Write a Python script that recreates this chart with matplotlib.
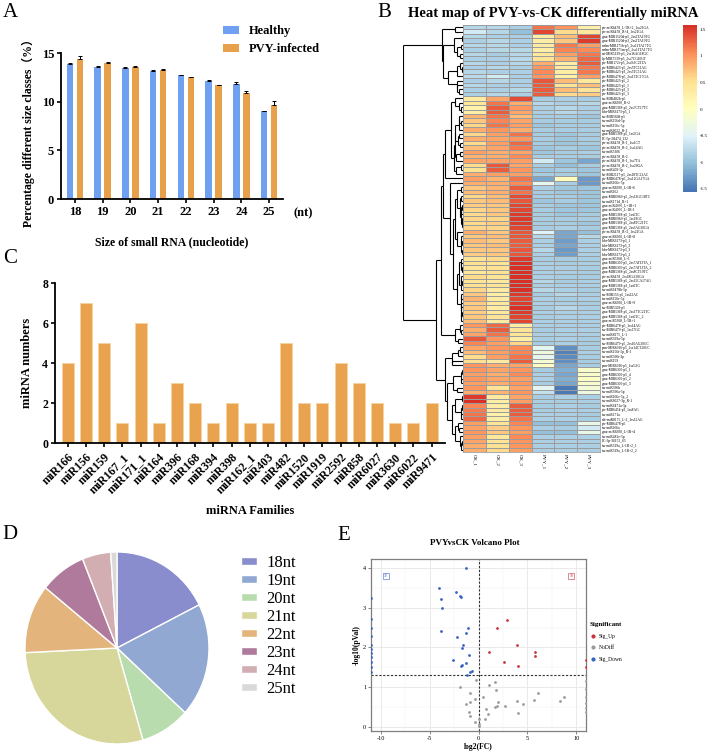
import numpy as np
import matplotlib
matplotlib.use('Agg')
import matplotlib.pyplot as plt
from matplotlib.colors import LinearSegmentedColormap
from matplotlib.lines import Line2D

# ---------------- data ----------------
size_classes = ['18', '19', '20', '21', '22', '23', '24', '25']
healthy = [13.9, 13.6, 13.45, 13.2, 12.7, 12.1, 11.85, 9.05]
healthy_err = [0.12, 0.08, 0.08, 0.05, 0.05, 0.15, 0.12, 0.04]
pvy = [14.35, 13.95, 13.6, 13.3, 12.55, 11.7, 10.85, 9.7]
pvy_err = [0.3, 0.1, 0.1, 0.1, 0.03, 0.06, 0.25, 0.35]

families = ['miR166', 'miR156', 'miR159', 'miR167_1', 'miR171_1', 'miR164', 'miR396',
            'miR168', 'miR394', 'miR398', 'miR162_1', 'miR403', 'miR482', 'miR1520',
            'miR1919', 'miR2592', 'miR858', 'miR6027', 'miR3630', 'miR6022', 'miR9471']
family_counts = [4, 7, 5, 1, 6, 1, 3, 2, 1, 2, 1, 1, 5, 2, 2, 4, 3, 2, 1, 1, 2]

pie_labels = ['18nt', '19nt', '20nt', '21nt', '22nt', '23nt', '24nt', '25nt']
pie_values = [17.6, 19.2, 8.7, 28.8, 11.6, 8.1, 5.0, 1.1]
pie_colors = ['#898CCD', '#91A8D2', '#B9DCAF', '#D7D69B', '#E4B47D', '#AF7A9B', '#D2AEB2', '#D9D9D9']

samples = ['CK_1', 'CK_2', 'CK_3', 'PVY_1', 'PVY_2', 'PVY_3']
mirna_names = [
    'ptc-miR6478_L-5R+2_1ss21GA', 'ptc-miR6478_R+4_1ss21GA', 'gma-MIR1520d-p5_2ss2TA19TG',
    'gma-MIR1520d-p3_2ss2TA19TG', 'mdm-MIR171h-p5_2ss11TA17TG', 'mdm-MIR171m-p5_2ss11TA17TG',
    'csi-MIR5139-p5_2ss16AG18GC', 'lja-MIR7539-p5_2ss7CG10GT', 'ptc-MIR172i-p5_2ss9AC21TA',
    'ptc-MIR6423-p5_2ss5TC11AG', 'ptc-MIR6423-p3_2ss5TC11AG', 'ptc-MIR6478-p5_2ss13TC17GA',
    'ptc-MIR6423-p5_2', 'ptc-MIR6423-p5_1', 'ptc-MIR6423-p3_3', 'ptc-MIR6423-p5_3',
    'stu-MIR482b-p5', 'gma-miR6300_R+2', 'gma-MIR5368-p5_2ss7CT17TC', 'hbr-MIR6173-p5_1',
    'stu-MIR5668-p5', 'stu-miR156d-5p', 'stu-miR156c-5p', 'stu-miR6022_R-1',
    'gma-MIR5368-p5_1ss5GA', 'PC-5p-28474_132', 'ptc-miR6478_R-1_1ss1CT', 'ptc-miR6478_R-2_1ss14AG',
    'stu-miR5306', 'ptc-miR6478_R-2', 'ptc-miR6478_R-1_1ss7TA', 'ptc-miR6478_R-2_1ss20GA',
    'stu-miR403-5p', 'sbi-MIR2117-p5_2ss18TC21AC', 'ptc-MIR6478-p5_2ss12GA17GA', 'stu-miR166c-5p',
    'gma-miR6300_L-1R+6', 'stu-miR162', 'gma-MIR6969-p5_2ss13GC18TC', 'stu-miR171d_R+1',
    'gma-miR4995_L+1R+1', 'gma-miR4995_L-1R-1', 'gma-MIR5368-p5_1ss6TC', 'gma-MIR6969-p5_1ss19GC',
    'gma-MIR5368-p5_2ss8TC21TC', 'gma-MIR5368-p5_2ss6AG20GA', 'ptc-miR6478_R+2_1ss21GA',
    'gma-miR6300_L-1R+8', 'hbr-MIR6173-p3_1', 'hbr-MIR6173-p5_3', 'hbr-MIR6173-p3_3',
    'hbr-MIR6173-p5_2', 'gma-miR5368_L+1', 'gma-MIR6300-p5_2ss7AT13TA_1',
    'gma-MIR6300-p5_2ss7AT13TA_2', 'gma-MIR5368-p5_2ss8CT19TC', 'ptc-miR6478_2ss18GA20GA',
    'gma-MIR5368-p5_2ss15CA17AG', 'gma-MIR5368-p3_1ss6TC', 'stu-miR6478b-5p',
    'stu-MIR156-p5_1ss22AC', 'stu-miR156e-5p', 'gma-miR6300_L-1R+9', 'stu-MIR5303-p5',
    'gma-MIR5368-p5_2ss17TC21TC', 'gma-MIR5368-p3_1ss6TC_2', 'gma-miR5368_L-5R+1',
    'ptc-MIR6478-p5_1ss14AG', 'stu-MIR6479-p5_1ss17GC', 'stu-miR8175_L-1', 'stu-miR399a-5p',
    'stu-MIR6479-p5_2ss10AG20GC', 'psm-MIR6916-p5_2ss14CT20GC', 'stu-miR156f-5p_R-1',
    'stu-miR396i-3p', 'stu-miR159', 'psm-MIR6916-p5_1ss5AG', 'gma-MIR6300-p5_1',
    'gma-MIR6300-p5_4', 'gma-MIR6300-p5_2', 'gma-MIR6300-p5_3', 'stu-miR396b',
    'stu-miR396a-5p', 'stu-miR166c-5p_2', 'stu-miR6027-3p_R-1', 'stu-miR6471a-3p',
    'ptc-MIR6454-p3_1ss8AG', 'stu-miR171a', 'ath-miR8175_L-2_1ss12AG', 'ptc-MIR6478-p5',
    'stu-miR166a', 'gma-miR6300_L-1R+4', 'stu-miR482e-5p', 'PC-3p-36152_65',
    'stu-miR319a_L-1R+2_1', 'stu-miR319a_L-1R+2_2']

zscores = [
    [-0.80, -0.80, -0.85, 1.20, 1.00, 0.25], [-0.60, -0.80, -1.00, 1.45, 0.55, 0.40],
    [-0.80, -0.85, -0.85, 0.30, 0.75, 1.45], [-0.85, -0.80, -0.85, 0.30, 0.70, 1.50],
    [-0.80, -0.80, -0.85, 0.35, 1.15, 0.95], [-0.85, -0.80, -0.80, 0.30, 1.10, 1.05],
    [-0.80, -0.90, -0.80, 0.40, 0.95, 1.15], [-0.85, -0.85, -0.80, 0.45, 0.80, 1.25],
    [-0.80, -0.85, -0.80, 0.85, 0.30, 1.30], [-0.85, -0.80, -0.85, 1.00, 0.35, 1.15],
    [-0.80, -0.85, -0.85, 1.05, 0.30, 1.15], [-0.75, -0.60, -0.85, 1.00, 0.25, 0.95],
    [-0.85, -0.80, -0.85, 1.35, 0.75, 0.40], [-0.80, -0.85, -0.85, 1.30, 0.45, 0.75],
    [-0.85, -0.85, -0.80, 1.30, 0.75, 0.45], [-0.85, -0.80, -0.85, 1.30, 0.55, 0.65],
    [0.35, 0.90, 1.40, -0.90, -0.85, -0.90], [0.40, 1.20, 0.85, -0.80, -0.85, -0.80],
    [0.20, 1.30, 1.00, -0.85, -0.80, -0.85], [0.30, 1.30, 0.90, -0.85, -0.80, -0.85],
    [0.80, 1.20, 0.75, -0.90, -0.90, -0.95], [0.70, 1.10, 0.90, -0.90, -0.90, -0.90],
    [0.60, 1.20, 0.95, -0.95, -0.90, -0.90], [0.85, 1.00, 0.85, -0.90, -0.90, -0.90],
    [0.60, 0.95, 1.20, -0.90, -0.95, -0.90], [0.85, 0.90, 1.00, -0.90, -0.95, -0.90],
    [0.55, 0.95, 1.25, -0.90, -0.95, -0.90], [0.75, 0.90, 1.15, -0.95, -0.90, -0.95],
    [0.95, 0.85, 0.90, -0.95, -0.90, -0.85], [0.80, 0.85, 1.05, -0.90, -0.90, -0.90],
    [0.90, 0.90, 0.95, -0.60, -0.95, -1.20], [0.55, 1.35, 0.90, -0.90, -1.00, -0.90],
    [0.50, 1.30, 1.00, -0.95, -0.90, -0.95], [0.85, 0.95, 0.95, -0.90, -0.90, -0.95],
    [0.95, 0.80, 1.20, -1.20, 0.05, -1.30], [0.85, 0.85, 1.05, -0.40, -0.90, -1.30],
    [0.70, 0.80, 1.30, -0.85, -0.95, -0.95], [0.75, 0.85, 1.20, -0.90, -0.95, -0.95],
    [0.60, 0.75, 1.40, -0.90, -0.90, -0.95], [0.70, 0.75, 1.35, -0.95, -0.90, -0.95],
    [0.65, 0.70, 1.45, -0.90, -0.95, -0.95], [0.60, 0.70, 1.45, -0.90, -0.95, -0.95],
    [0.55, 0.70, 1.50, -0.90, -0.95, -0.90], [0.60, 0.60, 1.50, -0.90, -0.90, -0.90],
    [0.55, 0.65, 1.50, -0.90, -0.90, -0.95], [0.60, 0.60, 1.45, -0.90, -0.85, -0.90],
    [0.85, 0.70, 1.35, -0.50, -1.20, -1.00], [0.70, 0.75, 1.35, -0.80, -1.20, -0.80],
    [0.75, 0.70, 1.30, -0.85, -1.25, -0.85], [0.70, 0.75, 1.30, -0.85, -1.20, -0.85],
    [0.70, 0.70, 1.35, -0.80, -1.30, -0.85], [0.65, 0.70, 1.35, -0.85, -1.25, -0.85],
    [0.45, 0.55, 1.50, -0.90, -0.90, -0.90], [0.50, 0.45, 1.55, -0.85, -0.90, -0.85],
    [0.45, 0.50, 1.55, -0.85, -0.85, -0.90], [0.40, 0.50, 1.60, -0.85, -0.85, -0.90],
    [0.55, 0.45, 1.55, -0.85, -0.90, -0.90], [0.45, 0.40, 1.60, -0.80, -0.90, -0.85],
    [0.50, 0.45, 1.55, -0.85, -0.85, -0.85], [0.60, 0.35, 1.55, -0.80, -0.85, -0.90],
    [0.70, 0.30, 1.50, -0.90, -0.80, -0.85], [0.80, 0.35, 1.45, -0.85, -0.90, -0.85],
    [0.65, 0.40, 1.50, -0.85, -0.85, -0.90], [0.70, 0.35, 1.55, -0.90, -0.80, -0.85],
    [0.65, 0.40, 1.50, -0.85, -0.85, -0.85], [0.70, 0.45, 1.45, -0.90, -0.85, -0.85],
    [0.75, 0.35, 1.45, -0.85, -0.85, -0.85], [1.00, 1.25, 0.30, -0.85, -0.85, -0.85],
    [0.85, 1.30, 0.45, -0.90, -0.85, -0.85], [0.90, 1.20, 0.45, -0.85, -0.85, -0.85],
    [1.35, 1.00, 0.30, -0.90, -0.85, -0.90], [1.10, 0.95, 0.60, -0.90, -0.85, -0.90],
    [0.90, 1.00, 1.05, -0.45, -1.35, -0.90], [0.75, 0.95, 1.10, -0.30, -1.45, -0.85],
    [0.55, 0.95, 1.20, -0.40, -1.40, -0.90], [0.50, 0.35, 1.30, -0.15, -1.35, -0.90],
    [1.00, 0.85, 0.90, -0.05, -1.20, -0.90], [1.00, 0.90, 1.00, -0.90, -1.15, -0.10],
    [0.95, 0.85, 1.05, -0.85, -1.20, -0.10], [1.00, 0.90, 0.95, -0.85, -1.15, -0.05],
    [0.95, 0.85, 1.00, -0.90, -1.20, -0.10], [1.00, 0.45, 0.90, -0.45, -1.50, -0.20],
    [0.85, 0.80, 1.00, -0.70, -1.50, -0.30], [1.50, 0.35, 0.90, -0.90, -0.85, -0.85],
    [1.55, 0.30, 0.95, -0.85, -0.90, -0.85], [1.10, 0.30, 1.30, -0.90, -0.85, -0.90],
    [1.15, 0.35, 1.30, -0.90, -0.85, -0.85], [1.20, 0.25, 1.30, -0.85, -0.85, -0.90],
    [1.25, 0.30, 1.20, -0.85, -0.85, -0.90], [0.95, 0.45, 1.10, -1.00, -1.00, -0.35],
    [0.95, 0.65, 1.00, -0.85, -0.90, -0.60], [1.00, 0.70, 0.95, -1.00, -1.00, -0.35],
    [0.95, 0.40, 1.05, -0.85, -0.85, -0.85], [0.90, 0.45, 1.00, -0.85, -0.85, -0.85],
    [0.85, 0.50, 1.00, -0.85, -0.85, -0.85], [0.85, 0.55, 0.95, -0.85, -0.85, -0.85]]

# volcano data: log2(FC), -log10(pVal)
down_fc = [-1.30, -4.09, -2.32, -1.88, -1.81, -3.83, -3.72, -3.86, -1.06, -1.33, -2.25, -1.54,
           -1.68, -0.99, -2.56, -1.33, -1.64, -1.74, -0.69, -0.82, -1.13,
           -11, -11, -11, -11, -11, -11, -11, -11, -11, -11, -11]
down_p = [4.00, 3.51, 3.39, 3.29, 3.28, 3.21, 3.00, 2.42, 2.48, 2.36, 2.27, 2.05,
          1.98, 1.82, 1.69, 1.61, 1.56, 1.54, 1.41, 1.38, 1.31,
          3.25, 2.72, 2.50, 2.28, 2.05, 1.95, 1.85, 1.75, 1.62, 1.50, 1.38]
up_fc = [2.90, 1.87, 3.89, 1.09, 5.76, 5.76, 2.56, 4.09, 11, 11]
up_p = [2.69, 2.50, 2.05, 1.88, 1.88, 1.78, 1.63, 1.52, 1.68, 1.50]
nd_fc = [-0.24, 1.05, 1.70, -1.91, 1.74, -0.92, 6.07, 0.44, 8.73, -0.35, 3.95, 5.73, 8.29,
         -0.85, 1.98, 4.53, -1.27, 2.72, 1.91, 1.64, 0.72, -0.96, 0.98, -0.82, 4.05, 0.69,
         0.04, -0.40, 0.00, 0.04, 11, 11, 11, 11, 11, 11]
nd_p = [1.17, 1.05, 1.13, 1.01, 0.92, 0.84, 0.84, 0.75, 0.75, 0.69, 0.65, 0.67, 0.64,
        0.63, 0.62, 0.57, 0.56, 0.51, 0.52, 0.50, 0.45, 0.38, 0.32, 0.28, 0.35, 0.19,
        0.20, 0.11, 0.06, 0.01, 1.15, 0.95, 0.75, 0.60, 0.48, 0.38]

# ---------------- figure ----------------
W, H = 708, 753
fig = plt.figure(figsize=(W / 100, H / 100), dpi=100)
plt.rcParams['font.family'] = ['Liberation Serif', 'Noto Sans CJK SC']
plt.rcParams['axes.unicode_minus'] = False


def ax_px(l, t, r, b):
    return fig.add_axes([l / W, 1 - b / H, (r - l) / W, (b - t) / H])


def fx(x):
    return x / W


def fy(y):
    return 1 - y / H


# panel letters
for lab, x, y in [('A', 3, 3), ('B', 377, 3), ('C', 3, 249), ('D', 2, 525), ('E', 337, 526)]:
    fig.text(fx(x), fy(y), lab, fontsize=15, va='top', ha='left')

# ---------------- Panel A ----------------
axA = ax_px(61, 53, 283, 199)
xa = np.arange(len(size_classes))
blue, orange = '#6FA0F2', '#E9A04B'
axA.bar(xa - 0.18, healthy, width=0.24, color=blue, label='Healthy')
axA.bar(xa + 0.18, pvy, width=0.24, color=orange, label='PVY-infected')
zer = np.zeros(len(xa))
axA.errorbar(xa - 0.18, healthy, yerr=[zer, healthy_err], fmt='none', ecolor='black',
             elinewidth=0.7, capsize=1.6, capthick=0.7)
axA.errorbar(xa + 0.18, pvy, yerr=[zer, pvy_err], fmt='none', ecolor='black',
             elinewidth=0.7, capsize=1.6, capthick=0.7)
axA.set_xlim(-0.5, 7.5)
axA.set_ylim(0, 15)
axA.set_yticks([0, 5, 10, 15])
axA.set_xticks(xa)
axA.set_xticklabels(size_classes)
for s in ['top', 'right']:
    axA.spines[s].set_visible(False)
for s in ['left', 'bottom']:
    axA.spines[s].set_linewidth(1.3)
axA.tick_params(width=1.2, length=3, labelsize=9, pad=2)
for t in axA.get_xticklabels() + axA.get_yticklabels():
    t.set_fontweight('bold')
axA.set_xlabel('Size of small RNA (nucleotide)', fontsize=8.5, fontweight='bold')
axA.xaxis.set_label_coords(0.5, -0.255)
axA.set_ylabel('Percentage different size classes（%）', fontsize=8.5, fontweight='bold')
axA.yaxis.set_label_coords(-0.115, 0.47)
fig.text(fx(303), fy(213), '(nt)', fontsize=9, fontweight='bold', ha='center', va='center')
legA = axA.legend(loc='upper left', bbox_to_anchor=(fx(223), fy(25)),
                  bbox_transform=fig.transFigure, frameon=False,
                  prop={'size': 9, 'weight': 'bold'}, handlelength=1.25, handleheight=0.6,
                  labelspacing=0.5, handletextpad=0.85, borderpad=0, borderaxespad=0)

# ---------------- Panel C ----------------
axC = ax_px(55, 283, 445, 443)
xc = np.arange(len(families))
axC.bar(xc, family_counts, width=0.66, color='#E9A24D', edgecolor='#F6D3A0', linewidth=0.7)
axC.set_xlim(-0.71, len(families) - 1 + 0.74)
axC.set_ylim(0, 8)
axC.set_yticks([0, 2, 4, 6, 8])
axC.set_xticks(xc)
axC.set_xticklabels(families, rotation=45, ha='right', rotation_mode='anchor')
for s in ['top', 'right']:
    axC.spines[s].set_visible(False)
for s in ['left', 'bottom']:
    axC.spines[s].set_linewidth(1.3)
axC.tick_params(width=1.2, length=3, labelsize=8.5, pad=2)
axC.tick_params(axis='x', pad=3)
for t in axC.get_xticklabels() + axC.get_yticklabels():
    t.set_fontweight('bold')
axC.set_xlabel('miRNA Families', fontsize=9, fontweight='bold')
axC.xaxis.set_label_coords(0.5, -0.39)
axC.set_ylabel('miRNA numbers', fontsize=9, fontweight='bold')
axC.yaxis.set_label_coords(-0.057, 0.5)

# ---------------- Panel B (heatmap) ----------------
Z = np.array(zscores)
n_rows = Z.shape[0]
hm_cols = ['#4575B4', '#91BFDB', '#E0F3F8', '#FFFFBF', '#FEE090', '#FC8D59', '#D73027']
cmap = LinearSegmentedColormap.from_list('pheat', hm_cols, N=100)
vmin, vmax = -1.56, 1.58

axH = ax_px(463, 25, 600, 452)
mesh = axH.pcolormesh(Z, cmap=cmap, vmin=vmin, vmax=vmax, edgecolors='#9C9C9C', linewidth=0.45)
axH.set_ylim(n_rows, 0)
axH.set_xlim(0, Z.shape[1])
axH.set_yticks(np.arange(n_rows) + 0.5)
axH.set_yticklabels(mirna_names, fontsize=2.6)
axH.yaxis.tick_right()
axH.set_xticks(np.arange(Z.shape[1]) + 0.5)
axH.set_xticklabels(samples, fontsize=3.6, rotation=270)
axH.tick_params(length=0, pad=1.2)
for s in axH.spines.values():
    s.set_edgecolor('#9C9C9C')
    s.set_linewidth(0.6)

fig.text(fx(553), fy(13), 'Heat map of PVY-vs-CK differentially miRNA', fontsize=10.5,
         fontweight='bold', ha='center', va='center')

# dendrogram (complete linkage restricted to neighbouring clusters in display order)
D = np.sqrt(((Z[:, None, :] - Z[None, :, :]) ** 2).sum(-1))
clusters = [[i] for i in range(n_rows)]
nodes = [(i + 0.5, 0.0) for i in range(n_rows)]
segs = []
root_h = 0.0
while len(clusters) > 1:
    best = None
    for k in range(len(clusters) - 1):
        d = D[np.ix_(clusters[k], clusters[k + 1])].max()
        if best is None or d < best[0]:
            best = (d, k)
    d, k = best
    (pa, ha), (pb, hb) = nodes[k], nodes[k + 1]
    h = max(d, ha, hb)
    segs += [([ha, h], [pa, pa]), ([hb, h], [pb, pb]), ([h, h], [pa, pb])]
    clusters[k] = clusters[k] + clusters[k + 1]
    del clusters[k + 1]
    nodes[k] = ((pa + pb) / 2, h)
    del nodes[k + 1]
    root_h = h

axD = ax_px(403, 25, 463, 452)
for xs, ys in segs:
    axD.plot(xs, ys, color='black', lw=0.8, solid_capstyle='butt')
axD.set_xlim(root_h, 0)
axD.set_ylim(n_rows, 0)
axD.axis('off')

cax = ax_px(683, 25, 697, 192)
cb = fig.colorbar(mesh, cax=cax)
cb.outline.set_visible(False)
cb.set_ticks([1.5, 1, 0.5, 0, -0.5, -1, -1.5])
cb.set_ticklabels(['1.5', '1', '0.5', '0', '-0.5', '-1', '-1.5'])
cax.tick_params(length=0, labelsize=3.6, pad=2)

# ---------------- Panel D (pie) ----------------
axP = ax_px(25, 552, 209, 744)
wedges, _ = axP.pie(pie_values, colors=pie_colors, startangle=90, counterclock=False,
                    wedgeprops=dict(edgecolor='white', linewidth=1.0))
axP.set_aspect('auto')
axP.set_xlim(-1.0, 1.0)
axP.set_ylim(-1.0, 1.0)
axP.legend(wedges, pie_labels, loc='upper left', bbox_to_anchor=(fx(241), fy(555)),
           bbox_transform=fig.transFigure, frameon=False, fontsize=12,
           handlelength=0.95, handleheight=0.32, labelspacing=0.12, handletextpad=0.55,
           borderpad=0, borderaxespad=0)

# ---------------- Panel E (volcano) ----------------
axV = ax_px(371, 559, 586, 731)
c_up, c_nd, c_down = '#C9343F', '#9A9A9A', '#3764C2'
axV.set_xlim(-11, 11)
axV.set_ylim(-0.11, 4.23)
axV.set_xticks([-10, -5, 0, 5, 10])
axV.set_yticks([0, 1, 2, 3, 4])
axV.set_xticks([-7.5, -2.5, 2.5, 7.5], minor=True)
axV.set_yticks([0.5, 1.5, 2.5, 3.5], minor=True)
axV.grid(True, which='major', color='#E6E6E6', lw=0.6)
axV.grid(True, which='minor', color='#F1F1F1', lw=0.35)
axV.set_axisbelow(True)
axV.axvline(0, color='#333333', lw=0.8, ls=(0, (2, 1.5)))
axV.axhline(1.3, color='#333333', lw=0.8, ls=(0, (2, 1.5)))
axV.scatter(nd_fc, nd_p, s=4, color=c_nd, label='NoDiff', zorder=3, linewidths=0)
axV.scatter(up_fc, up_p, s=4, color=c_up, label='Sig_Up', zorder=3, linewidths=0)
axV.scatter(down_fc, down_p, s=4, color=c_down, label='Sig_Down', zorder=3, linewidths=0)
for s in axV.spines.values():
    s.set_edgecolor('#7F7F7F')
    s.set_linewidth(0.9)
axV.tick_params(which='major', length=2, width=0.5, color='#555555', labelsize=4.5, pad=1.5)
axV.tick_params(which='minor', length=0)
axV.set_xlabel('log2(FC)', fontsize=5.5, fontweight='bold', labelpad=1.5)
axV.set_ylabel('-log10(pVal)', fontsize=5.5, fontweight='bold', labelpad=2)
axV.text(-9.5, 3.8, str(len(down_fc)), fontsize=2.8, color=c_down, ha='center', va='center',
         bbox=dict(boxstyle='square,pad=0.3', fc='white', ec=c_down, lw=0.4))
axV.text(9.5, 3.8, str(len(up_fc)), fontsize=2.8, color=c_up, ha='center', va='center',
         bbox=dict(boxstyle='square,pad=0.3', fc='white', ec=c_up, lw=0.4))
fig.text(fx(475), fy(543), 'PVYvsCK Volcano Plot', fontsize=6.5, fontweight='bold',
         ha='center', va='center')
hv = [Line2D([], [], ls='none', marker='o', ms=2, color=c) for c in (c_up, c_nd, c_down)]
lv = axV.legend(hv, ['Sig_Up', 'NoDiff', 'Sig_Down'], title='Significant', loc='upper left',
                bbox_to_anchor=(fx(590), fy(622)), bbox_transform=fig.transFigure,
                frameon=False, fontsize=4, title_fontproperties={'size': 5, 'weight': 'bold'},
                labelspacing=1.2, handlelength=1.0, handletextpad=0.6, borderpad=0,
                borderaxespad=0)
lv._legend_box.align = 'left'

fig.savefig('out.png', dpi=100)
